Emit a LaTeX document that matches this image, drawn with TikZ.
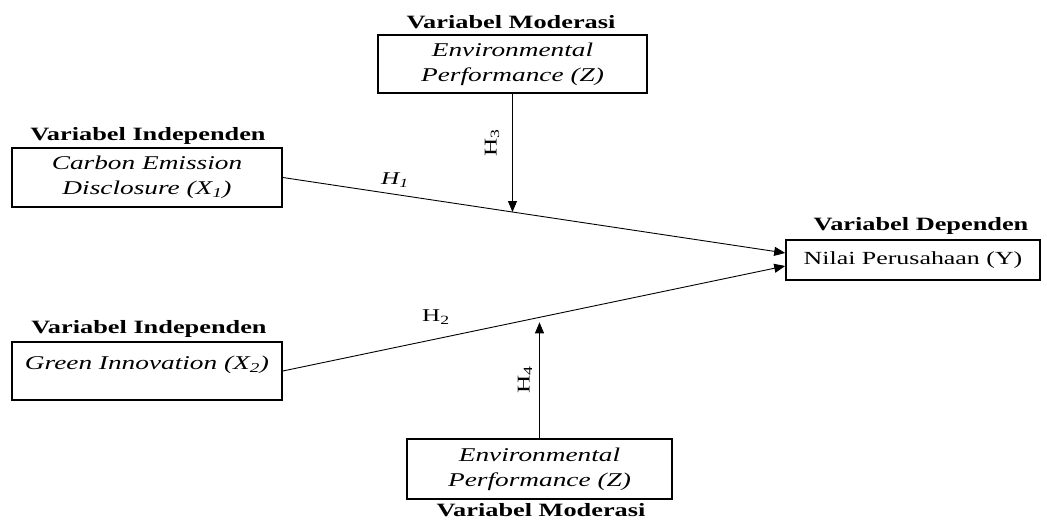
\documentclass[tikz,border=0pt]{standalone}
\usepackage{fontspec}
\setmainfont[FakeStretch=1.4]{Liberation Serif}
\usetikzlibrary{arrows.meta,calc}
\begin{document}
\begin{tikzpicture}[x=1pt,y=-1pt,
  box/.style={draw,line width=1.6pt,inner sep=0pt,align=center},
  ttl/.style={font=\fontsize{18.8}{21}\selectfont\bfseries},
  vtxt/.style={font=\fontsize{19.5}{25}\selectfont\itshape},
  ytxt/.style={font=\fontsize{18.5}{22}\selectfont},
  conn/.style={line width=0.9pt},
  arr/.style={conn,-{Triangle[length=11pt,width=9pt]}},
  hlab/.style={font=\fontsize{18}{21}\selectfont}]
\useasboundingbox (0,0) rectangle (1047,521);
% boxes
\node[box,vtxt,minimum width=270pt,minimum height=59pt] (X1) at (147,177.5)
  {Carbon Emission\\Disclosure (X\textsubscript{1})};
\node[box,vtxt,minimum width=270pt,minimum height=58pt,text height=13pt,text depth=17pt] (X2) at (147,371)
  {Green Innovation (X\textsubscript{2})};
\node[box,vtxt,minimum width=269pt,minimum height=58pt] (Zt) at (512.5,64)
  {Environmental\\Performance (Z)};
\node[box,vtxt,minimum width=265pt,minimum height=60pt] (Zb) at (539.5,469)
  {Environmental\\Performance (Z)};
\node[box,ytxt,minimum width=254pt,minimum height=40pt] (Y) at (913,260)
  {Nilai Perusahaan (Y)};
% titles
\node[ttl] (tZt) at (511,22) {Variabel Moderasi};
\node[ttl] (tX1) at (148,136) {Variabel Independen};
\node[ttl] (tX2) at (149,329) {Variabel Independen};
\node[ttl] (tY) at (921,226) {Variabel Dependen};
\node[ttl] (tZb) at (541,510.5) {Variabel Moderasi};
% connectors
\coordinate (a1) at ($(Y.west)+(0,-7)$);
\coordinate (a2) at ($(Y.west)+(0,6)$);
\draw[arr] (X1.east) -- (a1);
\draw[arr] (X2.east) -- (a2);
\draw[arr] (Zt.south) -- (intersection of X1.east--a1 and Zt.south--Zt.north);
\draw[arr,shorten >=5pt] (Zb.north) -- (intersection of X2.east--a2 and Zb.south--Zb.north);
% hypothesis labels
\node[hlab] (h1) at (395,180) {\textit{H\textsubscript{1}}};
\node[hlab] (h2) at (436,317) {H\textsubscript{2}};
\node[hlab,rotate=90] (h3) at (492,143) {H\textsubscript{3}};
\node[hlab,rotate=90] (h4) at (525,380) {H\textsubscript{4}};
\end{tikzpicture}
\end{document}
